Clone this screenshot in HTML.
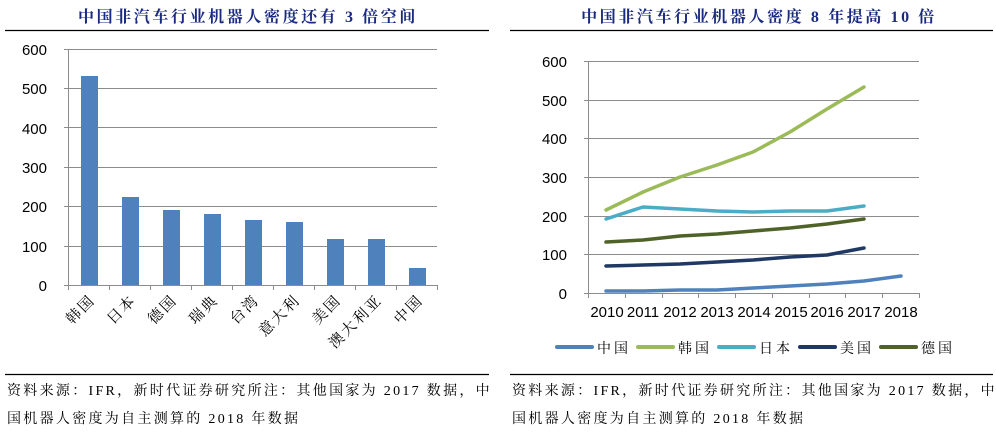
<!DOCTYPE html><html><head><meta charset="utf-8"><style>body{margin:0;background:#fff}svg{display:block}</style></head><body>
<svg width="996" height="433" xmlns="http://www.w3.org/2000/svg" font-family="Liberation Sans, Noto Sans CJK SC, sans-serif">
<g font-family="Liberation Serif, Noto Serif CJK SC, serif" font-weight="bold" fill="#1a2a80" font-size="16" text-anchor="middle" letter-spacing="2.6">
<text x="248" y="22">中国非汽车行业机器人密度还有 3 倍空间</text>
<text x="759" y="22">中国非汽车行业机器人密度 8 年提高 10 倍</text></g>
<g stroke="#000" stroke-width="1.3"><line x1="5" y1="30.5" x2="489" y2="30.5"/><line x1="510" y1="30.5" x2="993" y2="30.5"/>
<line x1="5" y1="374.5" x2="489" y2="374.5"/><line x1="510" y1="374.5" x2="993" y2="374.5"/></g>
<g font-family="Liberation Serif, Noto Serif CJK SC, serif" font-size="14" fill="#000" letter-spacing="2.3">
<text x="7" y="395">资料来源：IFR，新时代证券研究所注：其他国家为 2017 数据，中</text><text x="7" y="423">国机器人密度为自主测算的 2018 年数据</text>
<text x="512" y="395">资料来源：IFR，新时代证券研究所注：其他国家为 2017 数据，中</text><text x="512" y="423">国机器人密度为自主测算的 2018 年数据</text></g>
<!-- left chart -->
<g stroke="#8c8c8c" stroke-width="1"><line x1="64" y1="49.5" x2="437" y2="49.5"/><line x1="64" y1="88.5" x2="437" y2="88.5"/><line x1="64" y1="127.5" x2="437" y2="127.5"/><line x1="64" y1="167.5" x2="437" y2="167.5"/><line x1="64" y1="206.5" x2="437" y2="206.5"/><line x1="64" y1="246.5" x2="437" y2="246.5"/><line x1="64" y1="285.5" x2="437" y2="285.5"/><line x1="68.5" y1="49" x2="68.5" y2="285"/>
<line x1="68.5" y1="285" x2="68.5" y2="290"/><line x1="109.5" y1="285" x2="109.5" y2="290"/><line x1="150.5" y1="285" x2="150.5" y2="290"/><line x1="191.5" y1="285" x2="191.5" y2="290"/><line x1="232.5" y1="285" x2="232.5" y2="290"/><line x1="273.5" y1="285" x2="273.5" y2="290"/><line x1="314.5" y1="285" x2="314.5" y2="290"/><line x1="355.5" y1="285" x2="355.5" y2="290"/><line x1="396.5" y1="285" x2="396.5" y2="290"/><line x1="437.5" y1="285" x2="437.5" y2="290"/></g>
<g font-size="15" text-anchor="end" fill="#000"><text x="47" y="55">600</text><text x="47" y="94">500</text><text x="47" y="134">400</text><text x="47" y="173">300</text><text x="47" y="212">200</text><text x="47" y="252">100</text><text x="47" y="291">0</text></g>
<g fill="#4f81bd"><rect x="81" y="76" width="17" height="209"/><rect x="122" y="197" width="17" height="88"/><rect x="163" y="210" width="17" height="75"/><rect x="204" y="214" width="17" height="71"/><rect x="245" y="220" width="17" height="65"/><rect x="286" y="222" width="17" height="63"/><rect x="327" y="239" width="17" height="46"/><rect x="368" y="239" width="17" height="46"/><rect x="409" y="268" width="17" height="17"/></g>
<g font-family="Liberation Serif, Noto Serif CJK SC, serif" font-size="15" text-anchor="end" fill="#000" letter-spacing="2">
<text transform="translate(96,301) rotate(-45)">韩国</text><text transform="translate(137,301) rotate(-45)">日本</text><text transform="translate(178,301) rotate(-45)">德国</text><text transform="translate(219,301) rotate(-45)">瑞典</text><text transform="translate(260,301) rotate(-45)">台湾</text><text transform="translate(301,301) rotate(-45)">意大利</text><text transform="translate(342,301) rotate(-45)">美国</text><text transform="translate(383,301) rotate(-45)">澳大利亚</text><text transform="translate(424,301) rotate(-45)">中国</text></g>
<!-- right chart -->
<g stroke="#8c8c8c" stroke-width="1"><line x1="584" y1="61.5" x2="919" y2="61.5"/><line x1="584" y1="100.5" x2="919" y2="100.5"/><line x1="584" y1="138.5" x2="919" y2="138.5"/><line x1="584" y1="177.5" x2="919" y2="177.5"/><line x1="584" y1="216.5" x2="919" y2="216.5"/><line x1="584" y1="254.5" x2="919" y2="254.5"/><line x1="584" y1="293.5" x2="919" y2="293.5"/><line x1="588.5" y1="61" x2="588.5" y2="293"/>
<line x1="588.5" y1="293" x2="588.5" y2="298"/><line x1="625.5" y1="293" x2="625.5" y2="298"/><line x1="662.5" y1="293" x2="662.5" y2="298"/><line x1="698.5" y1="293" x2="698.5" y2="298"/><line x1="735.5" y1="293" x2="735.5" y2="298"/><line x1="772.5" y1="293" x2="772.5" y2="298"/><line x1="809.5" y1="293" x2="809.5" y2="298"/><line x1="845.5" y1="293" x2="845.5" y2="298"/><line x1="882.5" y1="293" x2="882.5" y2="298"/><line x1="919.5" y1="293" x2="919.5" y2="298"/></g>
<g font-size="15" text-anchor="end" fill="#000"><text x="567" y="67">600</text><text x="567" y="106">500</text><text x="567" y="144">400</text><text x="567" y="183">300</text><text x="567" y="222">200</text><text x="567" y="260">100</text><text x="567" y="299">0</text></g>
<g font-size="15" text-anchor="middle" fill="#000"><text x="607" y="317">2010</text><text x="643" y="317">2011</text><text x="680" y="317">2012</text><text x="717" y="317">2013</text><text x="754" y="317">2014</text><text x="791" y="317">2015</text><text x="827" y="317">2016</text><text x="864" y="317">2017</text><text x="901" y="317">2018</text></g>
<g fill="none" stroke-width="3.5" stroke-linejoin="round" stroke-linecap="round">
<polyline stroke="#4f81bd" points="606,291 643,291 680,290 717,290 753,288 790,286 827,284 864,281 901,276"/>
<polyline stroke="#9bbb59" points="606,210 643,192 680,177 717,165 753,152 790,132 827,109 864,87"/>
<polyline stroke="#4bacc6" points="606,219 643,207 680,209 717,211 753,212 790,211 827,211 864,206"/>
<polyline stroke="#1f3864" points="606,266 643,265 680,264 717,262 753,260 790,257 827,255 864,248"/>
<polyline stroke="#4f6228" points="606,242 643,240 680,236 717,234 753,231 790,228 827,224 864,219"/></g>
<g stroke-width="4" stroke-linecap="round"><line x1="557" y1="347" x2="592" y2="347" stroke="#4f81bd"/><line x1="638" y1="347" x2="673" y2="347" stroke="#9bbb59"/><line x1="719" y1="347" x2="754" y2="347" stroke="#4bacc6"/><line x1="800" y1="347" x2="835" y2="347" stroke="#1f3864"/><line x1="881" y1="347" x2="916" y2="347" stroke="#4f6228"/></g>
<g font-family="Liberation Serif, Noto Serif CJK SC, serif" font-size="14" fill="#000" letter-spacing="3"><text x="597" y="353">中国</text><text x="678" y="353">韩国</text><text x="759" y="353">日本</text><text x="840" y="353">美国</text><text x="921" y="353">德国</text></g>
</svg></body></html>
